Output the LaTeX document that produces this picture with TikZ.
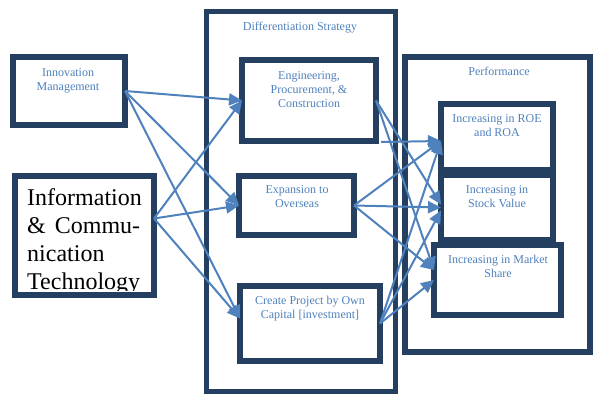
\documentclass[tikz,border=0pt]{standalone}
\usepackage{fontspec}
\setmainfont{Liberation Serif}
\usetikzlibrary{arrows.meta,calc}
\definecolor{boxnavy}{HTML}{243F60}
\definecolor{linkblue}{HTML}{4F81BD}
\begin{document}
\begin{tikzpicture}[x=1pt,y=-1pt,
  frame/.style={draw=boxnavy, line width=6pt, fill=white, inner sep=0pt, outer sep=0pt},
  lbl/.style={text=linkblue, font=\fontsize{12}{14}\selectfont, align=center, inner sep=0pt, anchor=north},
  bigtext/.style={text=black, font=\fontsize{24}{27.7}\selectfont, align=left, inner sep=0pt, anchor=base west},
  link/.style={draw=linkblue, line width=2pt, -{Triangle[length=13pt,width=12pt]}},
]
\useasboundingbox (0,0) rectangle (593,395);

% outer groups
\node[frame, line width=5pt, minimum width=189pt, minimum height=380pt] (diff) at (301,201.5) {};
\node[frame, minimum width=185pt, minimum height=295pt] (perf) at (497.5,204.5) {};

% drivers
\node[frame, minimum width=112pt, minimum height=68pt] (im) at (69,91) {};
\node[frame, minimum width=139pt, minimum height=119pt] (ict) at (84.5,235.5) {};

% strategy boxes
\node[frame, minimum width=134pt, minimum height=81pt] (epc) at (309,100.5) {};
\node[frame, minimum width=115pt, minimum height=59pt] (expn) at (296.5,205.5) {};
\node[frame, minimum width=140pt, minimum height=75pt] (cp) at (310,323.5) {};

% performance boxes
\node[frame, minimum width=112pt, minimum height=66pt] (roe) at (497,137) {};
\node[frame, minimum width=112pt, minimum height=65pt] (stock) at (497,207.5) {};
\node[frame, minimum width=127pt, minimum height=70pt] (mkt) at (497.5,280) {};

% labels
\node[lbl] (imt) at (68,68) {Innovation\\Management};
\node[lbl] (difft) at (300,22) {Differentiation Strategy};
\node[lbl] (epct) at (309,71) {Engineering,\\Procurement, \&\\Construction};
\node[lbl] (expnt) at (297,185) {Expansion to\\Overseas};
\node[lbl] (cpt) at (310,296) {Create Project by Own\\Capital [investment]};
\node[lbl] (perft) at (499,67) {Performance};
\node[lbl] (roet) at (497,114) {Increasing in ROE\\and ROA};
\node[lbl] (stockt) at (497,185) {Increasing in\\Stock Value};
\node[lbl] (mktt) at (498,255) {Increasing in Market\\Share};

% large driver text, cut off by the box (base anchor sits on the last line)
\begin{scope}
  \clip (15,176) rectangle (154,290);
  \node[bigtext] (ictt) at (27,289) {Information\\\makebox[113pt][s]{\& Commu-}\\nication\\Technology};
\end{scope}

% connection points
\coordinate (ictout) at ($(ict.east)+(0,-17)$);
\coordinate (cpin) at ($(cp.west)+(0,-5)$);
\coordinate (epccorner) at ($(epc.south east)+(5,1)$);
\coordinate (roein) at ($(roe.west)+(0,4)$);
\coordinate (stockinA) at ($(stock.west)+(0,-3)$);
\coordinate (stockinC) at ($(stock.west)+(0,3)$);
\coordinate (mktinA) at ($(mkt.west)+(0,-10)$);

% drivers to strategy
\draw[link] (im.east) -- (epc.west);
\draw[link] (im.east) -- (expn.west);
\draw[link] (im.east) -- (cpin);
\draw[link] (ictout) -- (epc.west);
\draw[link] (ictout) -- (expn.west);
\draw[link] (ictout) -- (cpin);

% strategy to performance
\draw[link] (epccorner) -- (roein);
\draw[link] (epc.east) -- (stockinA);
\draw[link] (epc.east) -- (mktinA);
\draw[link] (expn.east) -- (roein);
\draw[link] (expn.east) -- (stock.west);
\draw[link] (expn.east) -- (mktinA);
\draw[link] (cp.east) -- (roein);
\draw[link] (cp.east) -- (stockinC);
\draw[link] (cp.east) -- (mkt.west);
\end{tikzpicture}
\end{document}
